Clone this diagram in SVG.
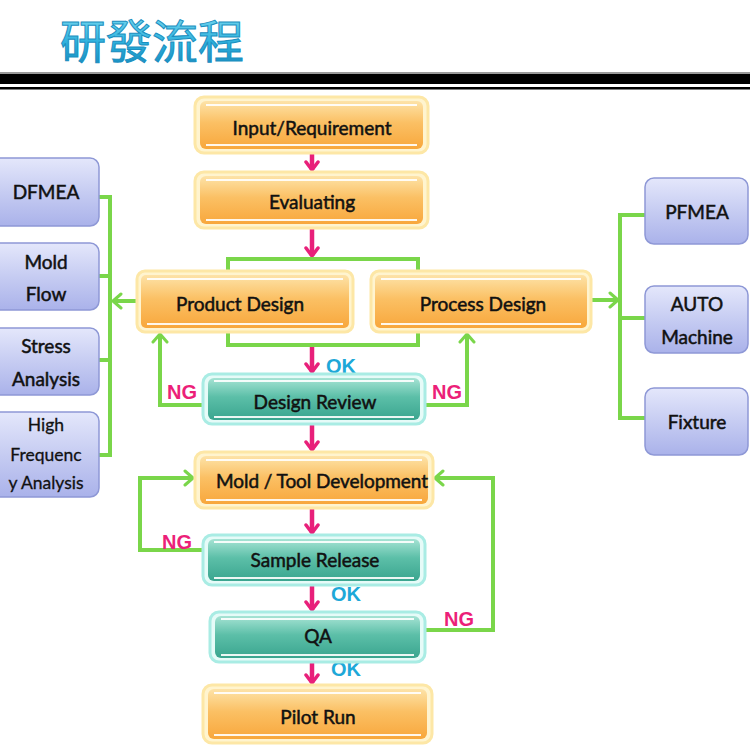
<svg xmlns="http://www.w3.org/2000/svg" width="750" height="750" viewBox="0 0 750 750">
<defs>
<linearGradient id="gOr" x1="0" y1="0" x2="0" y2="1">
<stop offset="0" stop-color="#fde3a8"/><stop offset="0.45" stop-color="#fbc064"/><stop offset="1" stop-color="#f8a73c"/>
</linearGradient>
<linearGradient id="gTe" x1="0" y1="0" x2="0" y2="1">
<stop offset="0" stop-color="#a6e3d4"/><stop offset="0.45" stop-color="#5cbfa8"/><stop offset="1" stop-color="#3aa58f"/>
</linearGradient>
<linearGradient id="gLa" x1="0" y1="0" x2="0" y2="1">
<stop offset="0" stop-color="#e4e7fb"/><stop offset="0.5" stop-color="#c6ccf2"/><stop offset="1" stop-color="#aab2ea"/>
</linearGradient>
<linearGradient id="gTitle" x1="0" y1="0" x2="0" y2="1">
<stop offset="0" stop-color="#8fe6f7"/><stop offset="0.6" stop-color="#2aaedb"/><stop offset="1" stop-color="#1784b8"/>
</linearGradient>
<marker id="mPink" viewBox="0 0 12 16" refX="10" refY="8" markerWidth="12" markerHeight="16" markerUnits="userSpaceOnUse" orient="auto">
<path d="M2,2 L10,8 L2,14" fill="none" stroke="#e8207a" stroke-width="3.5" stroke-linecap="round" stroke-linejoin="round"/>
</marker>
<marker id="mGreen" viewBox="0 0 12 18" refX="10" refY="9" markerWidth="12" markerHeight="18" markerUnits="userSpaceOnUse" orient="auto">
<path d="M2,2 L10,9 L2,16" fill="none" stroke="#7ad64a" stroke-width="3" stroke-linecap="round" stroke-linejoin="round"/>
</marker>
</defs>
<style>
.glowO{fill:#fff4cf;stroke:#fde7a6;stroke-width:3}
.boxO{fill:url(#gOr)}
.glowT{fill:#e6fbf8;stroke:#a9ece4;stroke-width:3}
.boxT{fill:url(#gTe)}
.hl{fill:none;stroke:#ffffff;stroke-width:2;opacity:0.9}
.boxL{fill:url(#gLa);stroke:#8e98d6;stroke-width:1.5}
.t{font-family:Lato,"Open Sans","Liberation Sans",sans-serif;font-size:19px;fill:#111;stroke:#111;stroke-width:0.5;text-anchor:middle;dominant-baseline:central}
.ts{font-family:Lato,"Open Sans","Liberation Sans",sans-serif;font-size:17.5px;fill:#111;stroke:#111;stroke-width:0.3;text-anchor:middle;dominant-baseline:central}
.pink{stroke:#e8207a;stroke-width:4.5;fill:none;marker-end:url(#mPink)}
.green{stroke:#7ad64a;stroke-width:4;fill:none;stroke-linejoin:miter}
.ga{marker-end:url(#mGreen)}
.ok{font-family:"Liberation Sans",Arial,sans-serif;font-weight:bold;font-size:20px;fill:#1ea8d8}
.ng{font-family:"Liberation Sans",Arial,sans-serif;font-weight:bold;font-size:20px;fill:#ec1f79}
</style>
<rect width="750" height="750" fill="#ffffff"/>
<text x="152" y="38" font-family="'Noto Sans CJK TC','Noto Sans CJK SC',sans-serif" font-size="46" fill="url(#gTitle)" stroke="#1b8fc0" stroke-width="1" text-anchor="middle" dominant-baseline="central">研發流程</text>
<rect x="0" y="72" width="750" height="2" fill="#9a9a9a"/>
<rect x="0" y="74" width="750" height="10" fill="#000000"/>
<rect x="0" y="87" width="750" height="2.5" fill="#000000"/>

<g id="connectors">
<path class="pink" d="M312,153 V170"/>
<path class="pink" d="M312,229 V256"/>
<path class="pink" d="M312,346 V372"/>
<path class="pink" d="M312,423 V450"/>
<path class="pink" d="M312,509 V533"/>
<path class="pink" d="M312,584 V610"/>
<path class="pink" d="M312,661 V683"/>
<path class="green" d="M228,271 V259 H418 V271"/>
<path class="green" d="M228,331 V345 H418 V331"/>
<path class="green ga" d="M203,405 H160 V334"/>
<path class="green ga" d="M425,405 H467 V334"/>
<path class="green ga" d="M137,301 H113"/>
<path class="green" d="M99,197 H110 V455 H99 M99,276 H110 M99,360 H110"/>
<path class="green ga" d="M592,300 H618"/>
<path class="green" d="M645,215 H620 V418 H645 M620,318 H645"/>
<path class="green ga" d="M203,550 H140 V478 H193"/>
<path class="green ga" d="M425,630 H493 V478 H435"/>
<text class="ok" x="326" y="373">OK</text>
<text class="ng" x="167" y="399">NG</text>
<text class="ng" x="432" y="399">NG</text>
<text class="ng" x="162" y="549">NG</text>
<text class="ok" x="331" y="601">OK</text>
<text class="ng" x="444" y="626">NG</text>
<text class="ok" x="331" y="676">OK</text>
</g>

<g id="input">
<rect class="glowO" x="195" y="97" width="233" height="56" rx="9"/>
<rect class="boxO" x="200" y="101" width="223" height="48" rx="6"/>
<path class="hl" d="M206,105 H417 M206,145 H417"/>
<text class="t" x="312" y="127">Input/Requirement</text>
</g>
<g id="evaluating">
<rect class="glowO" x="195" y="172" width="233" height="56" rx="9"/>
<rect class="boxO" x="200" y="176" width="223" height="48" rx="6"/>
<path class="hl" d="M206,180 H417 M206,220 H417"/>
<text class="t" x="312" y="201">Evaluating</text>
</g>
<g id="product-design">
<rect class="glowO" x="137" y="271" width="216" height="61" rx="8"/>
<rect class="boxO" x="141" y="275" width="208" height="53" rx="5"/>
<path class="hl" d="M147,279 H343 M147,324 H343"/>
<text class="t" x="240" y="303">Product Design</text>
</g>
<g id="process-design">
<rect class="glowO" x="371" y="271" width="220" height="61" rx="8"/>
<rect class="boxO" x="375" y="275" width="212" height="53" rx="5"/>
<path class="hl" d="M381,279 H581 M381,324 H581"/>
<text class="t" x="483" y="303">Process  Design</text>
</g>
<g id="design-review">
<rect class="glowT" x="203" y="374" width="222" height="50" rx="9"/>
<rect class="boxT" x="208" y="378" width="212" height="42" rx="6"/>
<path class="hl" d="M214,381 H414 M214,417 H414"/>
<text class="t" x="315" y="401">Design Review</text>
</g>
<g id="mold-tool">
<rect class="glowO" x="195" y="452" width="238" height="56" rx="9"/>
<rect class="boxO" x="200" y="456" width="228" height="48" rx="6"/>
<path class="hl" d="M206,460 H422 M206,500 H422"/>
<text class="t" x="322" y="480" textLength="212" lengthAdjust="spacing">Mold / Tool Development</text>
</g>
<g id="sample-release">
<rect class="glowT" x="203" y="535" width="222" height="50" rx="9"/>
<rect class="boxT" x="208" y="539" width="212" height="42" rx="6"/>
<path class="hl" d="M214,542 H414 M214,578 H414"/>
<text class="t" x="315" y="559">Sample Release</text>
</g>
<g id="qa">
<rect class="glowT" x="210" y="612" width="215" height="50" rx="9"/>
<rect class="boxT" x="215" y="616" width="205" height="42" rx="6"/>
<path class="hl" d="M221,619 H414 M221,655 H414"/>
<text class="t" x="318" y="635">QA</text>
</g>
<g id="pilot-run">
<rect class="glowO" x="203" y="685" width="229" height="58" rx="9"/>
<rect class="boxO" x="208" y="689" width="219" height="50" rx="6"/>
<path class="hl" d="M214,693 H421 M214,735 H421"/>
<text class="t" x="318" y="716">Pilot Run</text>
</g>

<g id="dfmea">
<rect class="boxL" x="-8" y="158" width="107" height="68" rx="9"/>
<text class="t" x="46" y="191">DFMEA</text>
</g>
<g id="mold-flow">
<rect class="boxL" x="-8" y="243" width="107" height="67" rx="9"/>
<text class="t" x="46" y="261">Mold</text>
<text class="t" x="46" y="293">Flow</text>
</g>
<g id="stress-analysis">
<rect class="boxL" x="-8" y="328" width="107" height="67" rx="9"/>
<text class="t" x="46" y="345">Stress</text>
<text class="t" x="46" y="378">Analysis</text>
</g>
<g id="high-frequency">
<rect class="boxL" x="-8" y="412" width="107" height="85" rx="9"/>
<text class="ts" x="46" y="424">High</text>
<text class="ts" x="46" y="454">Frequenc</text>
<text class="ts" x="46" y="482">y Analysis</text>
</g>
<g id="pfmea">
<rect class="boxL" x="645" y="178" width="103" height="66" rx="9"/>
<text class="t" x="697" y="211">PFMEA</text>
</g>
<g id="auto-machine">
<rect class="boxL" x="645" y="286" width="103" height="67" rx="9"/>
<text class="t" x="697" y="303">AUTO</text>
<text class="t" x="697" y="336">Machine</text>
</g>
<g id="fixture">
<rect class="boxL" x="645" y="388" width="103" height="67" rx="9"/>
<text class="t" x="697" y="421">Fixture</text>
</g>
</svg>
